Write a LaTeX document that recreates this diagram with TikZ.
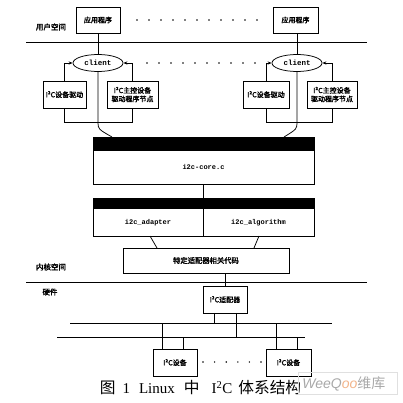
\documentclass[tikz,border=0pt]{standalone}
\usepackage{fontspec}
\setmainfont{Liberation Serif}
\setmonofont{Liberation Mono}
\setsansfont{Liberation Sans}
\newfontfamily\cjk{Noto Sans CJK SC}
\newfontfamily\cjkb{Noto Sans CJK SC}[FakeBold=2]
\usetikzlibrary{shapes.geometric,arrows.meta}
\definecolor{wmgray}{HTML}{A8A8A8}
\definecolor{wmorange}{HTML}{F2B48A}
\definecolor{wmframe}{HTML}{E0E0E0}
\begin{document}
\begin{tikzpicture}[x=1pt,y=-1pt, line width=0.75pt,
  box/.style={draw, rectangle, inner sep=0pt, font=\cjkb\fontsize{7}{8.5}\selectfont, align=center},
  lbl/.style={font=\cjkb\fontsize{7.5}{8}\selectfont, inner sep=0pt},
  mono/.style={font=\ttfamily\bfseries\fontsize{7}{8}\selectfont, inner sep=0pt},
  cl/.style={draw, ellipse, minimum width=50pt, minimum height=17pt, inner sep=0pt, font=\ttfamily\bfseries\fontsize{7.5}{8}\selectfont},
  arr/.style={-{Stealth[length=4pt,width=3.2pt]}},
]
\useasboundingbox (0,0) rectangle (403,403);

% user space
\node[box, minimum width=44pt, minimum height=26pt] (app1) at (98,20) {应用程序};
\node[box, minimum width=45pt, minimum height=26pt] (app2) at (295.5,20) {应用程序};
\foreach \i in {0,...,10} \fill (137+12*\i,20) circle (0.8pt);
\node[lbl] (us) at (51,27) {用户空间};
\draw (26,42) -- (367,42);

% clients
\node[cl] (cl1) at (98,63) {client};
\node[cl] (cl2) at (297,63) {client};
\foreach \i in {0,...,9} \fill (147+12*\i,63) circle (0.8pt);
\draw (app1) -- (cl1);
\draw (app2.south -| cl2.north) -- (cl2.north);

\node[box, minimum width=43pt, minimum height=27pt] (drv1) at (64.5,94.5) {I²C设备驱动};
\node[box, minimum width=51pt, minimum height=27pt] (ctl1) at (132.5,94.5) {I²C主控设备\\驱动程序节点};
\node[box, minimum width=46pt, minimum height=27pt] (drv2) at (266,94.5) {I²C设备驱动};
\node[box, minimum width=50pt, minimum height=27pt] (ctl2) at (332,94.5) {I²C主控设备\\驱动程序节点};

\coordinate (j1) at (98,122);
\coordinate (j2) at (297,122);
\coordinate (e1) at (112,137);
\coordinate (e2) at (284,137);
\draw[arr] (drv1.north) |- (cl1.west);
\draw[arr] (ctl1.north) |- (cl1.east);
\draw (drv1.south) |- (j1);
\draw (ctl1.south) |- (j1);
\draw (cl1.south) -- (j1) .. controls (98,129) .. (e1);
\draw[arr] (drv2.north) |- (cl2.west);
\draw[arr] (ctl2.north) |- (cl2.east);
\draw (drv2.south) |- (j2);
\draw (ctl2.south) |- (j2);
\draw (cl2.south) -- (j2) .. controls (297,129) .. (e2);

% i2c-core
\node[draw, minimum width=221pt, minimum height=47pt, inner sep=0pt] (core) at (203.5,160.5) {};
\fill (93,137) rectangle (314,151);
\node[mono] (coretxt) at (203.5,167) {i2c-core.c};

% adapter / algorithm
\node[draw, minimum width=221pt, minimum height=38pt, inner sep=0pt] (adalg) at (203.5,217) {};
\fill (93,198) rectangle (314,209);
\draw (203,209) -- (203,236);
\node[mono] (adp) at (148,223) {i2c\_adapter};
\node[mono] (alg) at (258.5,223) {i2c\_algorithm};
\draw (core.south -| 203,0) -- (adalg.north -| 203,0);

% specific adapter code
\node[box, minimum width=166pt, minimum height=25pt, font=\cjkb\fontsize{7.3}{8}\selectfont] (spec) at (206,260.5) {特定适配器相关代码};
\draw (150,236) -- (157,248);
\draw (259,236) -- (254,248);
\node[lbl] (ks) at (51,267) {内核空间};
\draw (26,282) -- (367,282);
\node[lbl] (hwl) at (50,292) {硬件};

% hardware
\node[box, minimum width=44pt, minimum height=27pt] (hwad) at (225,299.5) {I²C适配器};
\draw (spec.south -| hwad.north) -- (hwad.north);
\draw (70,323) -- (332,323);
\draw (57,337) -- (305,337);
\draw (214,312.9) -- (214,323);
\draw (236,312.9) -- (236,337);

\node[box, minimum width=44pt, minimum height=27pt] (dev1) at (175,362.5) {I²C设备};
\node[box, minimum width=45pt, minimum height=27pt] (dev2) at (288.5,362.5) {I²C设备};
\draw (162,323) -- (162,349);
\draw (183,337) -- (183,349);
\draw (276,323) -- (276,349);
\draw (297,337) -- (297,349);
\foreach \i in {0,...,5} \fill (203+11.6*\i,362) circle (0.8pt);

% caption
\node[anchor=west, inner sep=0pt, font=\fontsize{15}{17}\selectfont] (cap) at (99.5,388)
  {{\cjk\fontsize{15.7}{17}\selectfont 图}\hspace{7pt}\rmfamily 1\hspace{9pt}Linux\hspace{9pt}{\cjk\fontsize{15.7}{17}\selectfont 中}\hspace{12pt}\rmfamily I\textsuperscript{2}C\hspace{6pt}{\cjk\fontsize{15.7}{17}\selectfont 体系结构}};

% watermark
\draw[wmframe, line width=0.6pt] (298,372) rectangle (397,394);
\node[anchor=west, inner sep=0pt, font=\sffamily\itshape\fontsize{14}{16}\selectfont, text=wmgray] (wm) at (302,384)
  {WeeQ\textcolor{wmorange}{oo}{\upshape\cjk 维库}};
\end{tikzpicture}
\end{document}
